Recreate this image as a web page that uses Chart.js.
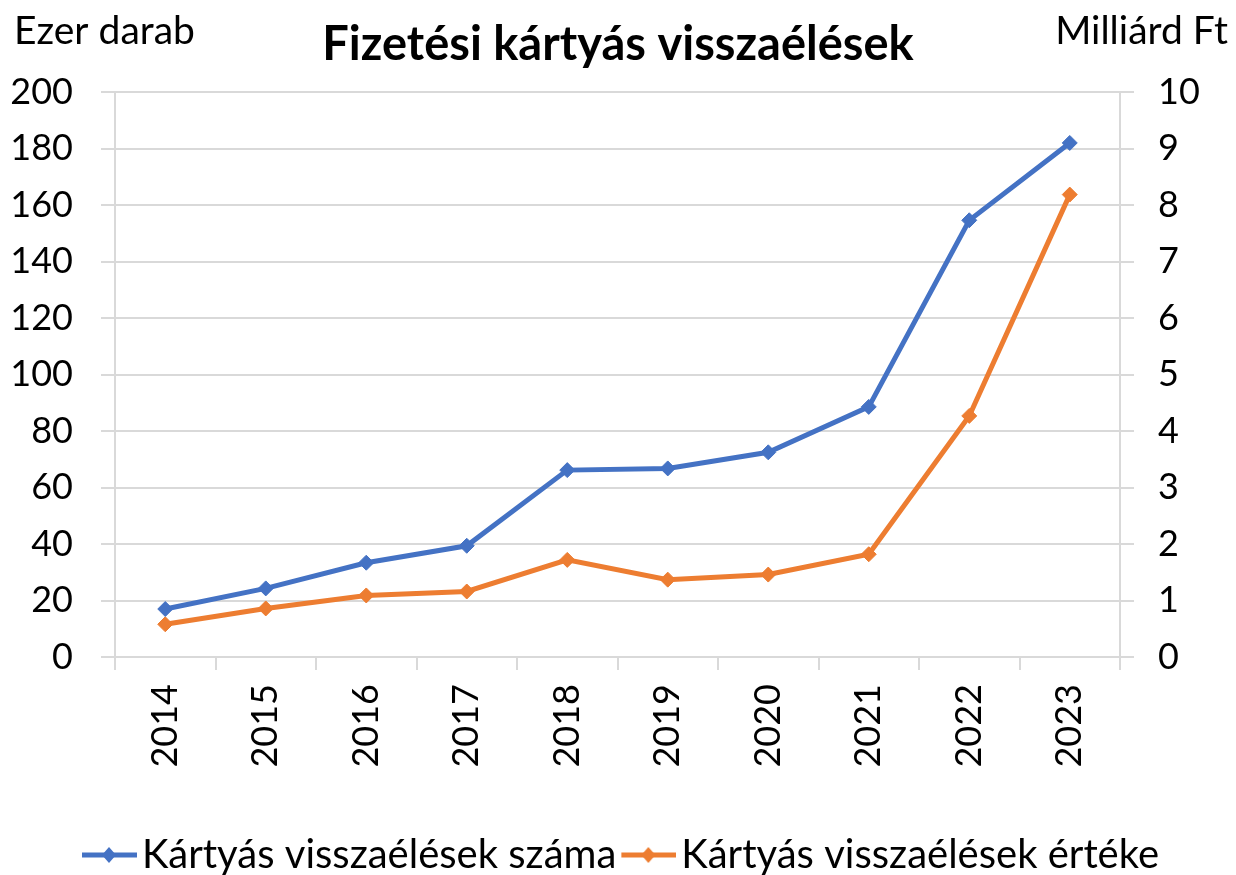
<!DOCTYPE html>
<html>
<head>
<meta charset="utf-8">
<title>Fizetési kártyás visszaélések</title>
<script src="https://cdn.jsdelivr.net/npm/chart.js@4.4.1/dist/chart.umd.min.js"></script>
<style>
  html, body { margin: 0; padding: 0; background: #fff; }
</style>
</head>
<body>
<canvas id="chart" width="1236" height="875"></canvas>
<script>
// Data
const years = ["2014", "2015", "2016", "2017", "2018", "2019", "2020", "2021", "2022", "2023"];
const countValues = [17.0, 24.3, 33.4, 39.4, 66.2, 66.8, 72.5, 88.6, 154.7, 182.1];   // ezer darab
const amountValues = [0.58, 0.86, 1.09, 1.16, 1.72, 1.37, 1.46, 1.82, 4.27, 8.19];   // milliárd Ft
const seriesNames = ["Kártyás visszaélések száma", "Kártyás visszaélések értéke"];
const chartTitle = "Fizetési kártyás visszaélések";
const leftAxisTitle = "Ezer darab";
const rightAxisTitle = "Milliárd Ft";
const leftMax = 200, leftStep = 20;
const rightMax = 10, rightStep = 1;

const BLUE = "#4472C4";
const ORANGE = "#ED7D31";
const GRID = "#d9d9d9";
const FONT = "Lato";

Chart.defaults.font.family = FONT;
Chart.defaults.color = "#000";

// Legend symbol: short line with a diamond, blank space on the left acts as item gap
function legendSymbol(color) {
    let c = document.createElement("canvas");
    c.width = 75;
    c.height = 18;
    let g = c.getContext("2d");
    g.strokeStyle = color;
    g.lineWidth = 5;
    g.beginPath();
    g.moveTo(20, 9);
    g.lineTo(75, 9);
    g.stroke();
    g.fillStyle = color;
    g.beginPath();
    g.moveTo(47, 1);
    g.lineTo(54, 9);
    g.lineTo(47, 17);
    g.lineTo(40, 9);
    g.closePath();
    g.fill();
    return c;
}
const symbols = [legendSymbol(BLUE), legendSymbol(ORANGE)];

// Axis titles sit flat in the top corners
const axisTitles = {
    id: "axisTitles",
    afterDraw(chart) {
        let ctx = chart.ctx;
        ctx.save();
        ctx.font = "39px " + FONT;
        ctx.fillStyle = "#000";
        ctx.textBaseline = "alphabetic";
        ctx.textAlign = "left";
        ctx.fillText(leftAxisTitle, 14, 44);
        ctx.textAlign = "right";
        ctx.fillText(rightAxisTitle, chart.width - 8, 44);
        ctx.restore();
    }
};

let tickFont = { size: 36 };

new Chart(document.getElementById("chart"), {
    type: "line",
    data: {
        labels: years,
        datasets: [
            {
                label: seriesNames[0],
                data: countValues,
                yAxisID: "y",
                borderColor: BLUE,
                backgroundColor: BLUE,
                borderWidth: 5,
                pointStyle: "rectRot",
                pointRadius: 7.5,
                pointBorderWidth: 1,
                tension: 0,
                fill: false
            },
            {
                label: seriesNames[1],
                data: amountValues,
                yAxisID: "y2",
                borderColor: ORANGE,
                backgroundColor: ORANGE,
                borderWidth: 5,
                pointStyle: "rectRot",
                pointRadius: 7.5,
                pointBorderWidth: 1,
                tension: 0,
                fill: false
            }
        ]
    },
    options: {
        responsive: false,
        animation: false,
        layout: { padding: { top: 0, left: 0, right: 0, bottom: -10 } },
        plugins: {
            title: {
                display: true,
                text: chartTitle,
                font: { size: 47, weight: "bold" },
                padding: { top: 17, bottom: 19 }
            },
            legend: {
                position: "bottom",
                labels: {
                    usePointStyle: true,
                    pointStyleWidth: 45,
                    padding: 0,
                    font: { size: 40 },
                    generateLabels(chart) {
                        let items = Chart.defaults.plugins.legend.labels.generateLabels(chart);
                        items.forEach(function(it, i) { it.pointStyle = symbols[i]; });
                        return items;
                    }
                }
            },
            tooltip: { enabled: false }
        },
        scales: {
            x: {
                offset: true,
                grid: { offset: true, drawOnChartArea: false, color: GRID, lineWidth: 2, tickLength: 13 },
                border: { color: GRID, width: 2 },
                ticks: { font: tickFont, minRotation: 90, maxRotation: 90, padding: 14 },
                afterFit(scale) { scale.height = 178; }
            },
            y: {
                position: "left",
                min: 0,
                max: leftMax,
                ticks: { stepSize: leftStep, font: tickFont, padding: 28 },
                grid: { color: GRID, lineWidth: 2, tickLength: 14 },
                border: { color: GRID, width: 2 },
                afterFit(scale) { scale.width = 115; }
            },
            y2: {
                position: "right",
                min: 0,
                max: rightMax,
                ticks: { stepSize: rightStep, font: tickFont, padding: 24 },
                grid: { drawOnChartArea: false, color: GRID, lineWidth: 2, tickLength: 14 },
                border: { color: GRID, width: 2 },
                afterFit(scale) { scale.width = 116; }
            }
        }
    },
    plugins: [axisTitles]
});
</script>
</body>
</html>
